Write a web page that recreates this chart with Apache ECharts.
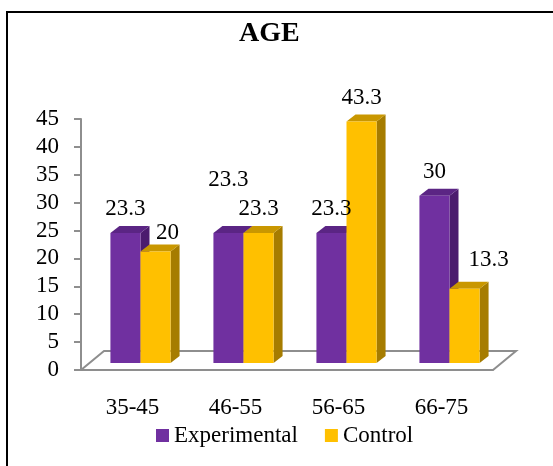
<!DOCTYPE html>
<html>
<head>
<meta charset="utf-8">
<script src="https://cdn.jsdelivr.net/npm/echarts@6/dist/echarts.min.js"></script>
<style>
  html, body { margin: 0; padding: 0; background: #fff; }
  #chart { width: 553px; height: 466px; }
</style>
</head>
<body>
<div id="chart"></div>
<script>
// Age groups and share of participants (%) per group
const categories = ['35-45', '46-55', '56-65', '66-75'];
const experimental = [23.3, 23.3, 23.3, 30];
const control = [20, 23.3, 43.3, 13.3];
const yMin = 0, yMax = 45, yStep = 5;

// Small [dx, dy] nudges so value labels do not collide
const expLabelNudge = [[0, 0], [0, -29], [0, 0], [0, 0]];
const ctlLabelNudge = [[12, 6], [0, 0], [0, 0], [24, -5]];

const FONT = "'Liberation Serif', 'Times New Roman', serif";
const AXIS_GRAY = '#8e8e8e';
const FLOOR_DEPTH = [23, -19];   // oblique projection of the floor depth
const BAR_SHIFT = [8, -7];       // bars stand a little behind the front plane
const BAR_DEPTH = [9, -7];       // thickness of each bar
const BAR_FRACTION = 0.292;      // bar width as a share of the category band

const palette = {
  experimental: { front: '#7030a0', top: '#5b2584', side: '#4b1c6e' },
  control: { front: '#ffc000', top: '#c99700', side: '#a67c00' }
};

// One 3D-looking bar: front face, top face, right side face and its value label.
// Faces of later series sit above earlier ones through z2; labels stay on top of all bars.
function makeBarRenderer(onLeft, colors, nudges, layer) {
  return function (params, api) {
    const idx = api.value(0);
    const val = api.value(1);
    const base = api.coord([idx, 0]);
    const top = api.coord([idx, val]);
    const w = api.size([1, 0])[0] * BAR_FRACTION;
    const x0 = base[0] + BAR_SHIFT[0] - (onLeft ? w : 0);
    const x1 = x0 + w;
    const yb = base[1] + BAR_SHIFT[1];
    const yt = top[1] + BAR_SHIFT[1];
    const dx = BAR_DEPTH[0], dy = BAR_DEPTH[1];
    const n = nudges[params.dataIndex] || [0, 0];
    return {
      type: 'group',
      children: [
        {
          type: 'polygon',
          z2: layer,
          shape: { points: [[x1, yt], [x1 + dx, yt + dy], [x1 + dx, yb + dy], [x1, yb]] },
          style: { fill: colors.side }
        },
        {
          type: 'polygon',
          z2: layer,
          shape: { points: [[x0, yt], [x1, yt], [x1 + dx, yt + dy], [x0 + dx, yt + dy]] },
          style: { fill: colors.top }
        },
        {
          type: 'rect',
          z2: layer,
          shape: { x: x0, y: yt, width: w, height: yb - yt },
          style: { fill: colors.front }
        },
        {
          type: 'text',
          z2: 50,
          style: {
            text: String(val),
            x: x0 + w / 2 + n[0],
            y: yt - 24 + n[1],
            align: 'center',
            verticalAlign: 'middle',
            fill: '#000',
            font: '23px ' + FONT
          }
        }
      ]
    };
  };
}

// Outline of the chart floor drawn behind the bars
function renderFloor(params, api) {
  const cs = params.coordSys;
  const yb = cs.y + cs.height;
  const [dx, dy] = FLOOR_DEPTH;
  return {
    type: 'polyline',
    shape: {
      points: [
        [cs.x, yb], [cs.x + dx, yb + dy],
        [cs.x + cs.width + dx, yb + dy], [cs.x + cs.width, yb]
      ]
    },
    style: { stroke: AXIS_GRAY, lineWidth: 2, fill: null }
  };
}

const chart = echarts.init(document.getElementById('chart'), null, { renderer: 'canvas' });

chart.setOption({
  backgroundColor: '#fff',
  animation: false,
  title: {
    text: 'AGE',
    left: 239,
    top: 20,
    padding: 0,
    textStyle: { fontFamily: FONT, fontSize: 28, fontWeight: 'bold', color: '#000' }
  },
  legend: {
    data: ['Experimental', 'Control'],
    left: 156,
    top: 424,
    padding: 0,
    icon: 'rect',
    itemWidth: 13,
    itemHeight: 13,
    itemGap: 27,
    textStyle: { fontFamily: FONT, fontSize: 23, color: '#000' }
  },
  grid: { left: 81, right: 60, top: 119, bottom: 96 },
  xAxis: {
    type: 'category',
    data: categories,
    axisLine: { lineStyle: { color: AXIS_GRAY, width: 2 } },
    axisTick: { length: 6, lineStyle: { color: AXIS_GRAY, width: 2 } },
    axisLabel: { color: '#000', fontFamily: FONT, fontSize: 23, margin: 26 }
  },
  yAxis: {
    type: 'value',
    min: yMin,
    max: yMax,
    interval: yStep,
    splitLine: { show: false },
    axisLine: { show: true, lineStyle: { color: AXIS_GRAY, width: 2 } },
    axisTick: { show: true, length: 7, lineStyle: { color: AXIS_GRAY, width: 2 } },
    axisLabel: { color: '#000', fontFamily: FONT, fontSize: 23, margin: 22 }
  },
  graphic: [
    {
      type: 'rect',
      silent: true,
      z: 100,
      shape: { x: 7, y: 12, width: 700, height: 600 },
      style: { fill: null, stroke: '#000', lineWidth: 2 }
    }
  ],
  series: [
    {
      name: 'floor',
      type: 'custom',
      silent: true,
      z: 1,
      renderItem: renderFloor,
      data: [[0, 0]]
    },
    {
      name: 'Experimental',
      type: 'custom',
      z: 2,
      itemStyle: { color: palette.experimental.front },
      renderItem: makeBarRenderer(true, palette.experimental, expLabelNudge, 1),
      encode: { x: 0, y: 1 },
      data: experimental.map((v, i) => [i, v])
    },
    {
      name: 'Control',
      type: 'custom',
      z: 2,
      itemStyle: { color: palette.control.front },
      renderItem: makeBarRenderer(false, palette.control, ctlLabelNudge, 2),
      encode: { x: 0, y: 1 },
      data: control.map((v, i) => [i, v])
    }
  ]
});
</script>
</body>
</html>
